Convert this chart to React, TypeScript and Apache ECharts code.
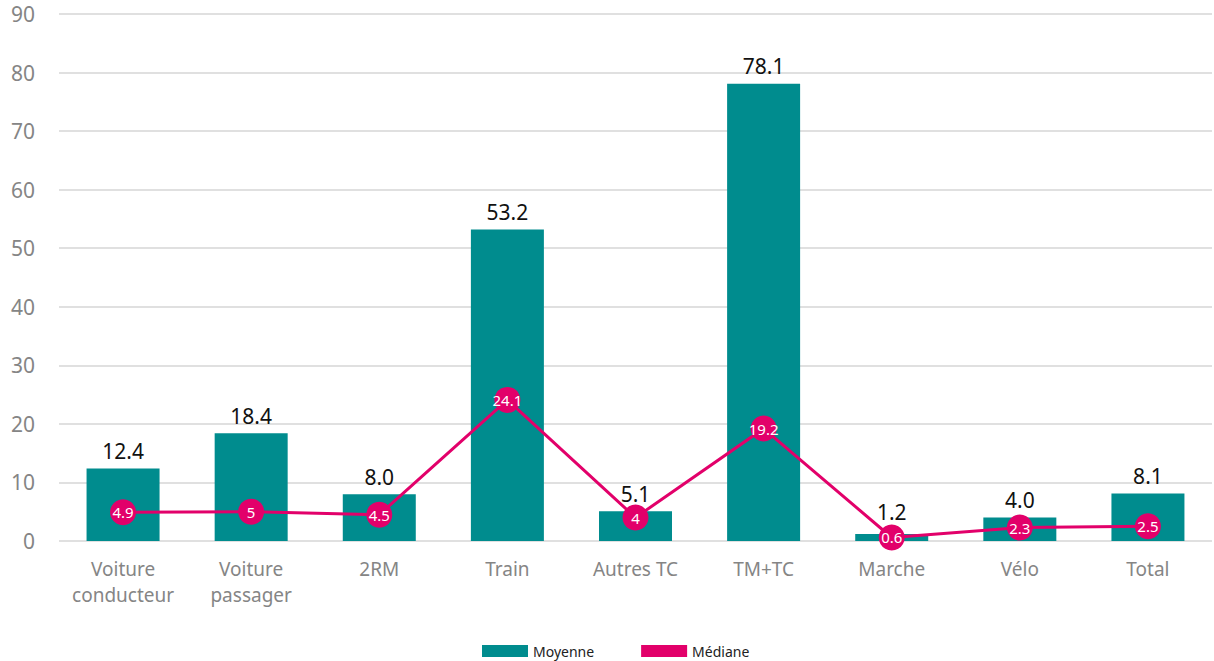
import React, { useEffect, useRef } from "react";
import * as echarts from "echarts";

const categories = [
  "Voiture\nconducteur",
  "Voiture\npassager",
  "2RM",
  "Train",
  "Autres TC",
  "TM+TC",
  "Marche",
  "Vélo",
  "Total",
];
const moyenne = [12.4, 18.4, 8.0, 53.2, 5.1, 78.1, 1.2, 4.0, 8.1];
const mediane = [4.9, 5, 4.5, 24.1, 4, 19.2, 0.6, 2.3, 2.5];

const TEAL = "#008C8E";
const PINK = "#E2006A";
const FONT = "Noto Sans";

export default function App() {
  const ref = useRef<HTMLDivElement>(null);
  useEffect(() => {
    document.body.style.margin = "0";
    const chart = echarts.init(ref.current!, null, { renderer: "svg" });
    chart.setOption({
      animation: false,
      textStyle: { fontFamily: FONT },
      grid: { left: 59, right: 2, top: 14, bottom: 120, containLabel: false },
      legend: {
        left: 477,
        top: 639,
        itemWidth: 46,
        itemHeight: 12,
        itemGap: 47,
        icon: "rect",
        textStyle: { fontSize: 14, color: "#222", fontFamily: FONT },
        data: [
          { name: "Moyenne", icon: "rect" },
          { name: "Médiane", icon: "rect" },
        ],
      },
      xAxis: {
        type: "category",
        data: categories,
        axisLine: { show: false },
        axisTick: { show: false },
        axisLabel: {
          color: "#858585",
          fontSize: 19,
          lineHeight: 26,
          margin: 15,
          interval: 0,
          fontFamily: FONT,
        },
      },
      yAxis: {
        type: "value",
        min: 0,
        max: 90,
        interval: 10,
        axisLine: { show: false },
        axisTick: { show: false },
        axisLabel: { color: "#858585", fontSize: 21, margin: 24, fontFamily: FONT },
        splitLine: { lineStyle: { color: "#d6d6d6", width: 1.5 } },
      },
      series: [
        {
          name: "Moyenne",
          type: "bar",
          data: moyenne.map((v, i) =>
            categories[i] === "Marche" ? { value: v, label: { distance: 11 } } : v
          ),
          barWidth: 73,
          itemStyle: { color: TEAL },
          label: {
            show: true,
            position: "top",
            distance: 7,
            color: "#111",
            fontSize: 21,
            fontFamily: FONT,
            formatter: (p: any) => Number(p.value).toFixed(1),
          },
          z: 2,
        },
        {
          name: "Médiane",
          type: "line",
          data: mediane,
          symbol: "circle",
          symbolSize: 26,
          lineStyle: { color: PINK, width: 3 },
          itemStyle: { color: PINK },
          label: {
            show: true,
            position: "inside",
            color: "#fff",
            fontSize: 15,
            fontFamily: FONT,
          },
          z: 3,
        },
      ],
    });
    return () => chart.dispose();
  }, []);
  return <div ref={ref} style={{ width: 1214, height: 661 }} />;
}
